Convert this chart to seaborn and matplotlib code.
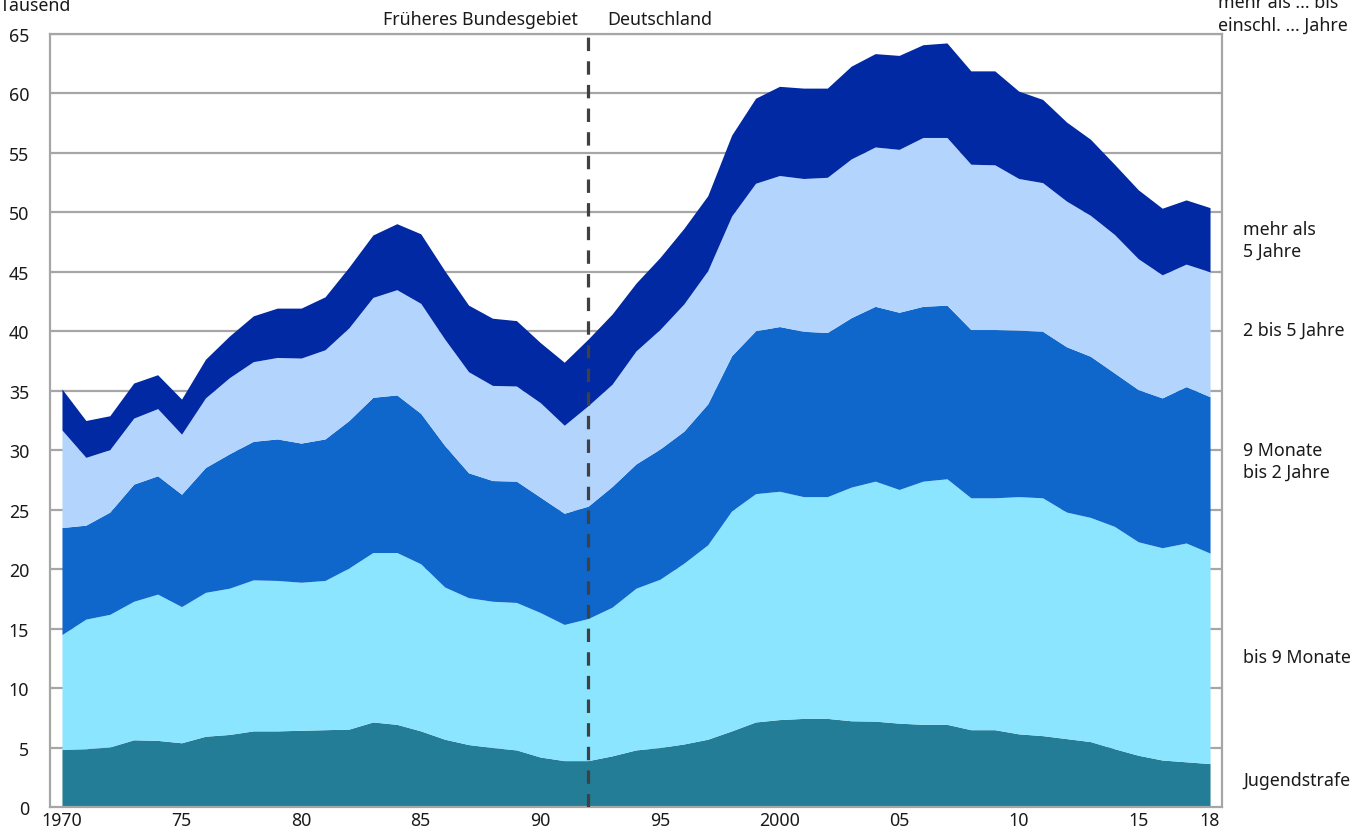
import matplotlib
matplotlib.use("Agg")
import matplotlib.pyplot as plt
import matplotlib.transforms as mtransforms
import seaborn as sns
import numpy as np

years = list(range(1970, 2019))

jugendstrafe = [4.85, 4.9, 5.05, 5.65, 5.6, 5.4, 5.95, 6.1, 6.4, 6.4,
                6.45, 6.5, 6.55, 7.15, 6.95, 6.4, 5.7, 5.25, 5.0, 4.8,
                4.2, 3.9, 3.9, 4.3, 4.8, 5.0, 5.3, 5.7, 6.4, 7.15,
                7.35, 7.45, 7.45, 7.25, 7.22, 7.05, 6.95, 6.95, 6.5, 6.5,
                6.15, 6.0, 5.75, 5.5, 4.9, 4.35, 3.95, 3.8, 3.65]
bis_9_monate = [9.65, 10.9, 11.15, 11.65, 12.3, 11.45, 12.1, 12.3, 12.7, 12.65,
                12.45, 12.55, 13.55, 14.25, 14.45, 14.05, 12.8, 12.35, 12.3, 12.4,
                12.15, 11.45, 11.95, 12.5, 13.6, 14.15, 15.2, 16.35, 18.5, 19.2,
                19.2, 18.65, 18.65, 19.65, 20.18, 19.65, 20.45, 20.65, 19.5, 19.5,
                19.95, 20.0, 19.05, 18.85, 18.7, 17.95, 17.85, 18.4, 17.7]
monate9_bis_2_jahre = [9.0, 7.9, 8.6, 9.85, 9.95, 9.45, 10.5, 11.3, 11.65, 11.9,
                       11.7, 11.9, 12.4, 13.05, 13.25, 12.65, 11.9, 10.5, 10.15, 10.2,
                       9.7, 9.35, 9.45, 10.15, 10.45, 10.95, 11.1, 11.85, 13.05, 13.7,
                       13.85, 13.9, 13.8, 14.25, 14.7, 14.9, 14.7, 14.6, 14.15, 14.15,
                       14.0, 14.0, 13.9, 13.55, 12.9, 12.8, 12.6, 13.15, 13.15]
jahre_2_bis_5 = [8.2, 5.7, 5.25, 5.55, 5.65, 5.05, 5.85, 6.4, 6.7, 6.85,
                 7.15, 7.5, 7.8, 8.4, 8.85, 9.25, 8.95, 8.5, 8.0, 8.0,
                 7.95, 7.4, 8.45, 8.6, 9.5, 10.05, 10.7, 11.2, 11.75, 12.4,
                 12.7, 12.85, 13.05, 13.35, 13.4, 13.7, 14.2, 14.1, 13.9, 13.85,
                 12.75, 12.5, 12.25, 11.85, 11.65, 11.0, 10.35, 10.3, 10.5]
mehr_als_5_jahre = [3.45, 3.1, 2.85, 2.95, 2.85, 2.95, 3.25, 3.5, 3.85, 4.15,
                    4.2, 4.45, 5.1, 5.25, 5.55, 5.85, 5.75, 5.6, 5.65, 5.5,
                    5.05, 5.3, 5.6, 5.9, 5.7, 6.05, 6.35, 6.3, 6.8, 7.15,
                    7.5, 7.6, 7.5, 7.8, 7.85, 7.9, 7.8, 7.95, 7.85, 7.9,
                    7.35, 7.0, 6.65, 6.4, 5.9, 5.8, 5.6, 5.4, 5.4]

series_labels = ["Jugendstrafe", "bis 9 Monate", "9 Monate\nbis 2 Jahre",
                 "2 bis 5 Jahre", "mehr als\n5 Jahre"]
label_y = [2.3, 12.6, 29.1, 40.1, 47.7]
colors = ["#247d96", "#8be5ff", "#0f67cc", "#b3d5fd", "#0029a3"]

xtick_pos = [1970, 1975, 1980, 1985, 1990, 1995, 2000, 2005, 2010, 2015, 2018]
xtick_labels = ["1970", "75", "80", "85", "90", "95", "2000", "05", "10", "15", "18"]
ytick_pos = list(range(0, 66, 5))

sns.set_theme(style="white")
plt.rcParams['font.family'] = ['Noto Sans', 'DejaVu Sans']
FS = 12.8

fig = plt.figure(figsize=(13.67, 8.37), dpi=100)
ax = fig.add_axes([50 / 1367, 1 - 808 / 837, 1172 / 1367, 773 / 837])

ax.stackplot(years, jugendstrafe, bis_9_monate, monate9_bis_2_jahre,
             jahre_2_bis_5, mehr_als_5_jahre, colors=colors, linewidth=0, zorder=2)

ax.set_xlim(1969.5, 2018.5)
ax.set_ylim(0, 65)
ax.set_yticks(ytick_pos)
ax.set_yticklabels([str(v) for v in ytick_pos], fontsize=FS, color="#1a1a1a")
ax.get_yticklabels()[0].set_fontweight("bold")
ax.set_xticks(xtick_pos)
ax.set_xticklabels(xtick_labels, fontsize=FS, color="#1a1a1a")
ax.tick_params(axis="both", length=0)
ax.tick_params(axis="y", pad=15)
ax.tick_params(axis="x", pad=3)

ax.grid(False)
for v in ytick_pos[1:]:
    ax.axhline(v, color="#a6a6a6", lw=1.6, zorder=1)
for s in ax.spines.values():
    s.set_color("#a6a6a6")
    s.set_linewidth(1.6)
    s.set_visible(True)

ax.axvline(1992, color="#404040", lw=2.3, dashes=(4.2, 3.2), zorder=3)

ax.text(1991.55, 66.3, "Früheres Bundesgebiet", ha="right", va="center",
        fontsize=FS, color="#1a1a1a", clip_on=False)
ax.text(1992.8, 66.3, "Deutschland", ha="left", va="center",
        fontsize=FS, color="#1a1a1a", clip_on=False)

trans = mtransforms.blended_transform_factory(ax.transAxes, ax.transData)
for lab, yv in zip(series_labels, label_y):
    ax.text(1.018, yv, lab, transform=trans, ha="left", va="center",
            fontsize=FS, color="#1a1a1a", linespacing=1.3, clip_on=False)
ax.text(0.9966, 66.75, "mehr als ... bis\neinschl. ... Jahre", transform=trans,
        ha="left", va="center", fontsize=FS, color="#1a1a1a", linespacing=1.3,
        clip_on=False)

fig.text(0.0, 1 - 6 / 837, "Tausend", ha="left", va="center",
         fontsize=FS, color="#1a1a1a")

fig.savefig("out.png", dpi=100)
